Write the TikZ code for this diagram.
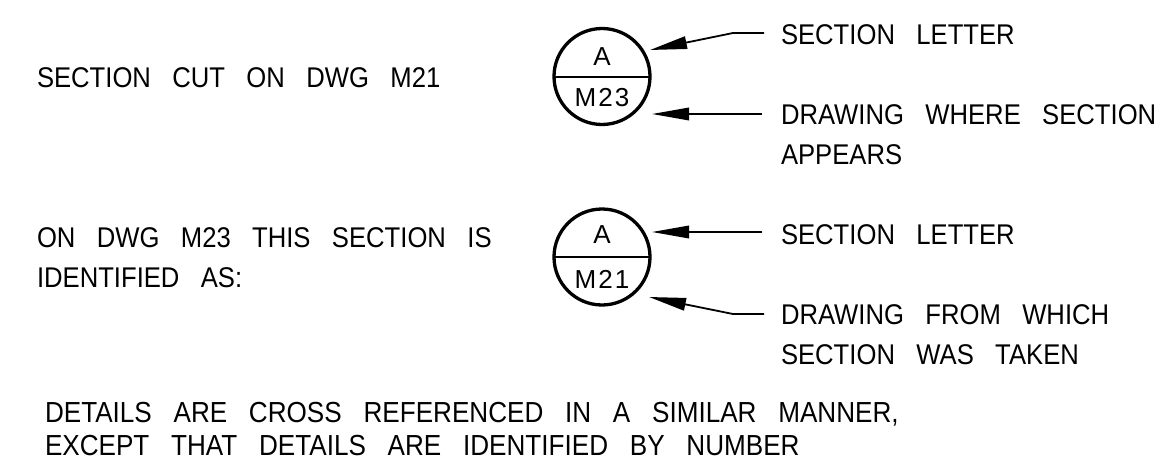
\documentclass[tikz,border=0pt]{standalone}
\usepackage{fontspec}
\setmainfont{Liberation Sans}
\newfontfamily\cadfont{Liberation Sans}[FakeStretch=0.9,WordSpace=3]
\newfontfamily\cadcirc{Liberation Sans}[LetterSpace=8]
\usetikzlibrary{arrows.meta}
\tikzset{
  lbl/.style={anchor=north west, inner sep=0pt, outer sep=0pt, align=left,
    font=\cadfont\fontsize{28.5}{40}\selectfont},
  notetext/.style={lbl, font=\cadfont\fontsize{29}{32.5}\selectfont},
  bubble/.style={circle, draw, line width=3.3pt, minimum size=96pt, inner sep=0pt, outer sep=0pt},
  ctext/.style={inner sep=0pt, font=\cadcirc\fontsize{26}{26}\selectfont},
  divider/.style={line width=2pt},
  leader/.style={line width=1.8pt, -{Triangle[length=37pt,width=12.5pt]}},
}
\begin{document}
\begin{tikzpicture}
\useasboundingbox (0,0) rectangle (1156pt,-460pt);
\fill[white] (0,0) rectangle (1156pt,-460pt);

% left texts
\node[lbl] (cut) at (37pt,-67.7pt) {SECTION CUT ON DWG M21};
\node[lbl] (ondwg) at (37pt,-228pt) {ON DWG M23 THIS SECTION IS\\IDENTIFIED AS:};
\node[notetext] (details) at (45pt,-402.5pt) {DETAILS ARE CROSS REFERENCED IN A SIMILAR MANNER,\\EXCEPT THAT DETAILS ARE IDENTIFIED BY NUMBER};

% bubble 1
\node[bubble] (c1) at (602pt,-76.5pt) {};
\draw[divider] (c1.west) -- (c1.east);
\node[ctext] (a1) at (602pt,-56.5pt) {A};
\node[ctext] (m1) at (602pt,-97.5pt) {M23};

% bubble 2
\node[bubble] (c2) at (602pt,-257pt) {};
\draw[divider] (c2.west) -- (c2.east);
\node[ctext] (a2) at (602pt,-235pt) {A};
\node[ctext] (m2) at (602pt,-279pt) {M21};

% right labels
\node[lbl] (t1) at (781pt,-25pt) {SECTION LETTER};
\node[lbl] (t2) at (781pt,-105pt) {DRAWING WHERE SECTION\\APPEARS};
\node[lbl] (t3) at (781pt,-225pt) {SECTION LETTER};
\node[lbl] (t4) at (781pt,-305pt) {DRAWING FROM WHICH\\SECTION WAS TAKEN};

% leaders
\coordinate (e1) at (764pt,-33pt);
\coordinate (k1) at (733pt,-33pt);
\coordinate (p1) at (650pt,-50pt);
\draw[leader] (e1) -- (k1) -- (p1);

\coordinate (e2) at (762pt,-114pt);
\coordinate (p2) at (652pt,-114pt);
\draw[leader] (e2) -- (p2);

\coordinate (e3) at (762pt,-232pt);
\coordinate (p3) at (652pt,-232pt);
\draw[leader] (e3) -- (p3);

\coordinate (e4) at (764pt,-314pt);
\coordinate (k4) at (733pt,-314pt);
\coordinate (p4) at (649pt,-297pt);
\draw[leader] (e4) -- (k4) -- (p4);
\end{tikzpicture}
\end{document}
